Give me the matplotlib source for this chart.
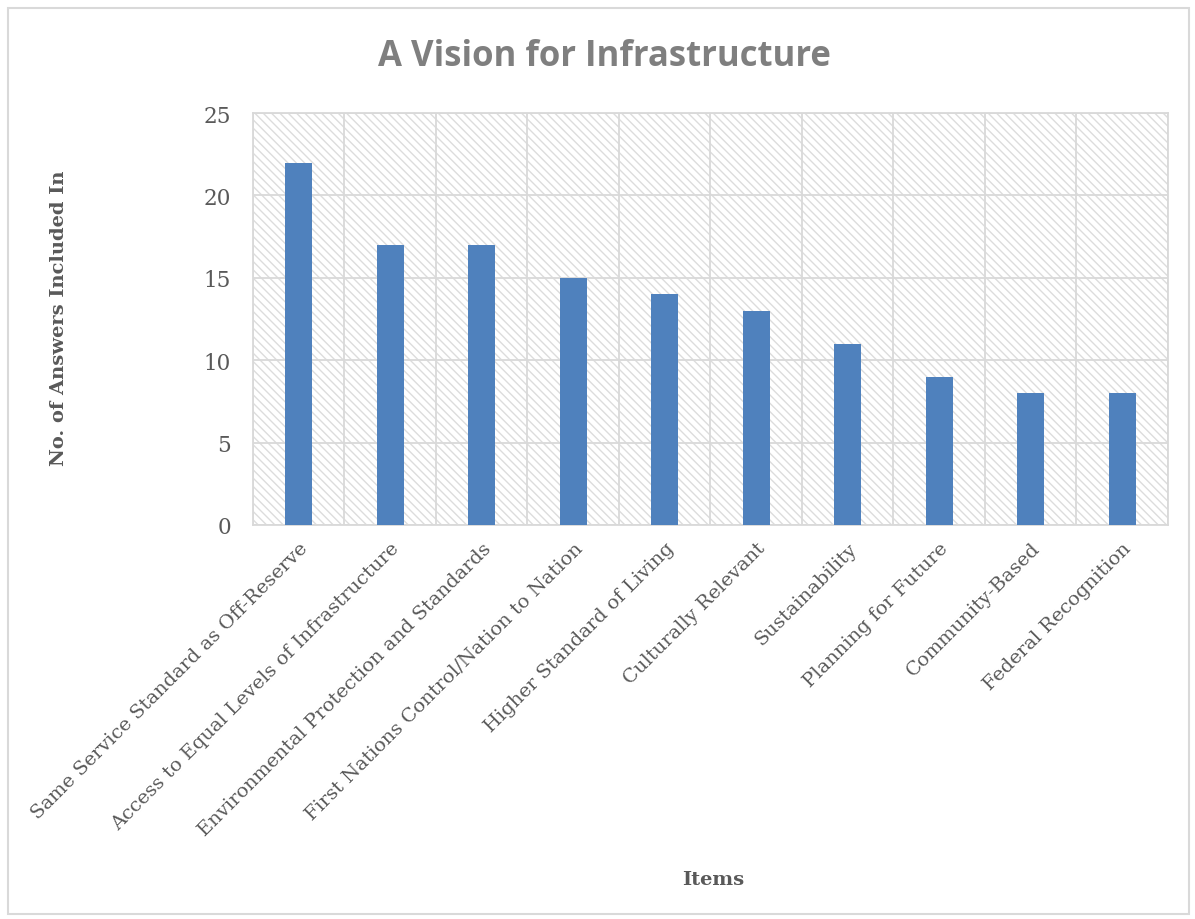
import matplotlib
matplotlib.use('Agg')
import matplotlib.pyplot as plt
from matplotlib.patches import Rectangle

# Chart data
items = ['Same Service Standard as Off-Reserve',
         'Access to Equal Levels of Infrastructure',
         'Environmental Protection and Standards',
         'First Nations Control/Nation to Nation',
         'Higher Standard of Living',
         'Culturally Relevant',
         'Sustainability',
         'Planning for Future',
         'Community-Based',
         'Federal Recognition']
answers = [22, 17, 17, 15, 14, 13, 11, 9, 8, 8]
y_ticks = [0, 5, 10, 15, 20, 25]

plt.rcParams['hatch.color'] = '#dcdcdc'
plt.rcParams['hatch.linewidth'] = 1.0

fig = plt.figure(figsize=(11.95, 9.2), dpi=100)
ax = fig.add_axes([0.2117, 0.4283, 0.7657, 0.4477])

# Outer chart border
fig.patches.append(Rectangle((0.007, 0.005), 0.988, 0.985, transform=fig.transFigure,
                             fill=False, edgecolor='#d9d9d9', linewidth=1.5))

# Hatched plot area
ax.add_patch(Rectangle((0, 0), 1, 1, transform=ax.transAxes, facecolor='white',
                       edgecolor='#dcdcdc', hatch='\\\\\\\\', linewidth=0, zorder=0))

x = list(range(len(items)))
ax.bar(x, answers, width=0.29, color='#4f81bd', zorder=3)

ax.set_xlim(-0.5, len(items) - 0.5)
ax.set_ylim(0, 25)
ax.set_yticks(y_ticks)
ax.set_xticks(x)
ax.set_xticklabels(items, rotation=45, ha='right', va='top', rotation_mode='anchor',
                   family='DejaVu Serif', fontsize=14, color='#595959')
ax.set_xticks([i + 0.5 for i in range(-1, len(items))], minor=True)
for lbl in ax.get_yticklabels():
    lbl.set_family('DejaVu Serif')
    lbl.set_fontsize(15.5)
    lbl.set_color('#595959')

ax.tick_params(axis='both', which='both', length=0)
ax.tick_params(axis='x', pad=10)
ax.tick_params(axis='y', pad=16)
ax.grid(True, axis='y', which='major', color='#d9d9d9', linewidth=1.3, zorder=1)
ax.grid(True, axis='x', which='minor', color='#d9d9d9', linewidth=1.3, zorder=1)
ax.set_axisbelow(True)
for s in ax.spines.values():
    s.set_color('#d9d9d9')
    s.set_linewidth(1.3)

fig.text(0.506, 0.938, 'A Vision for Infrastructure', ha='center', va='center',
         family='Open Sans', fontweight='bold', fontsize=25, color='#7f7f7f')
fig.text(0.049, 0.654, 'No. of Answers Included In', ha='center', va='center', rotation=90,
         family='DejaVu Serif', fontweight='bold', fontsize=14, color='#595959')
fig.text(0.597, 0.043, 'Items', ha='center', va='center',
         family='DejaVu Serif', fontweight='bold', fontsize=14, color='#595959')

plt.savefig('out.png', dpi=100)
